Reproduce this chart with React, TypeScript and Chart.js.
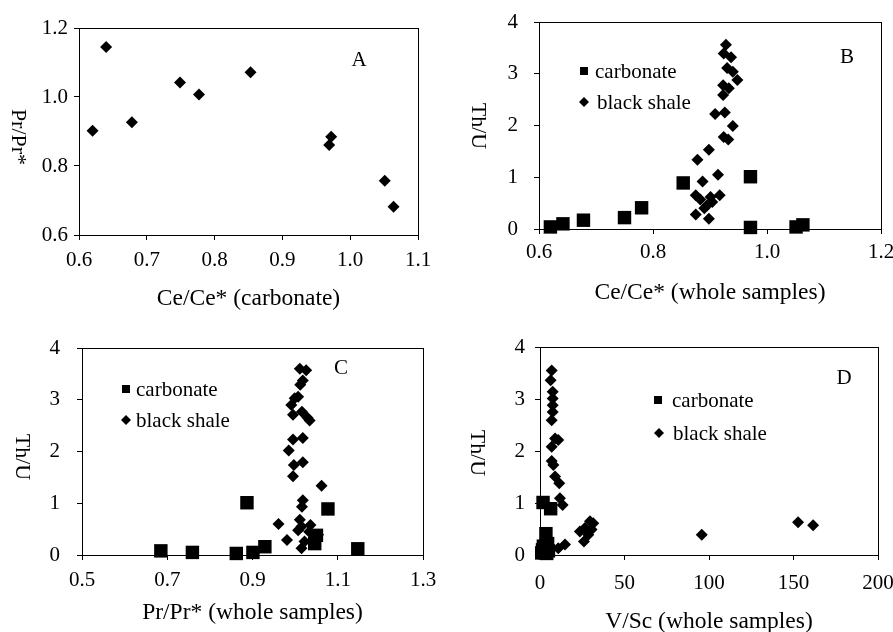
import React, { useEffect, useRef } from "react";
import { Chart, registerables } from "chart.js";

Chart.register(...registerables);

const FONT = "'Liberation Serif', 'Times New Roman', Times, serif";

// ---------- Panel A: carbonate Ce/Ce* vs Pr/Pr* ----------
const A_CE_CARB = [0.62, 0.64, 0.678, 0.749, 0.777, 0.853, 0.969, 0.972, 1.051, 1.064];
const A_PR_CARB = [0.902, 1.145, 0.927, 1.042, 1.007, 1.072, 0.861, 0.885, 0.757, 0.682];
const A_X_TICKS = [0.6, 0.7, 0.8, 0.9, 1.0, 1.1];
const A_Y_TICKS = [0.6, 0.8, 1.0, 1.2];

// ---------- Panel B: Ce/Ce* (whole samples) vs Th/U ----------
const B_CE_CARB = [0.62, 0.642, 0.678, 0.75, 0.78, 0.853, 0.971, 0.971, 1.051, 1.063];
const B_THU_CARB = [0.04, 0.1, 0.17, 0.22, 0.41, 0.89, 1.01, 0.03, 0.04, 0.08];
const B_CE_SHALE = [0.928, 0.924, 0.937, 0.93, 0.94, 0.948, 0.923, 0.933, 0.923, 0.909, 0.926, 0.94, 0.924, 0.932, 0.898, 0.878, 0.914, 0.887, 0.875, 0.917, 0.883, 0.901, 0.895, 0.904, 0.89, 0.875, 0.898];
const B_THU_SHALE = [3.56, 3.39, 3.32, 3.11, 3.04, 2.88, 2.78, 2.72, 2.59, 2.22, 2.25, 1.99, 1.78, 1.73, 1.53, 1.34, 1.05, 0.92, 0.65, 0.65, 0.57, 0.62, 0.46, 0.52, 0.4, 0.28, 0.2];
const B_X_TICKS = [0.6, 0.8, 1.0, 1.2];

// ---------- Panel C: Pr/Pr* (whole samples) vs Th/U ----------
const C_PR_CARB = [0.685, 0.759, 0.862, 0.901, 0.929, 0.887, 1.077, 1.046, 1.147, 1.05];
const C_THU_CARB = [0.08, 0.05, 0.03, 0.05, 0.16, 1.01, 0.89, 0.22, 0.12, 0.38];
const C_PR_SHALE = [1.011, 1.026, 1.018, 1.012, 1.007, 0.999, 0.991, 0.995, 1.016, 1.029, 1.034, 0.995, 1.018, 0.985, 0.997, 1.018, 0.995, 1.062, 1.018, 1.016, 0.961, 1.011, 1.015, 1.036, 1.007, 1.033, 1.054, 0.981, 1.022, 1.015];
const C_THU_SHALE = [3.6, 3.57, 3.37, 3.29, 3.06, 3.03, 2.9, 2.71, 2.77, 2.65, 2.6, 2.23, 2.26, 2.02, 1.74, 1.79, 1.52, 1.34, 1.06, 0.93, 0.6, 0.68, 0.55, 0.58, 0.48, 0.45, 0.39, 0.29, 0.26, 0.13];
const C_X_TICKS = [0.5, 0.7, 0.9, 1.1, 1.3];

// ---------- Panel D: V/Sc (whole samples) vs Th/U ----------
const D_VSC_CARB = [1.8, 6.3, 3.5, 4.5, 2.0, 1.5, 5.0, 1.0, 3.0, 4.0];
const D_THU_CARB = [1.01, 0.89, 0.41, 0.22, 0.17, 0.1, 0.08, 0.04, 0.04, 0.03];
const D_VSC_SHALE = [6.9, 6.3, 7.5, 7.5, 7.5, 7.5, 6.9, 8.9, 10.8, 6.9, 6.9, 7.9, 8.9, 11.4, 11.8, 13.4, 23.6, 26.6, 29.6, 31.5, 30.5, 28.6, 26.0, 10.8, 14.8, 95.7, 152.7, 161.6];
const D_THU_SHALE = [3.55, 3.36, 3.14, 3.01, 2.88, 2.75, 2.59, 2.24, 2.21, 2.08, 1.81, 1.73, 1.51, 1.38, 1.09, 0.96, 0.45, 0.52, 0.65, 0.61, 0.49, 0.39, 0.26, 0.13, 0.2, 0.39, 0.63, 0.57];
const D_X_TICKS = [0, 50, 100, 150, 200];

const THU_TICKS = [0, 1, 2, 3, 4];

const SERIES_CARB = "carbonate";
const SERIES_SHALE = "black shale";

type Series = { label: string; xs: number[]; ys: number[]; style: "rect" | "rectRot"; radius: number };
type LegendPos = { mx: number; my: number; tx: number };
type PanelCfg = {
  left: number; top: number; width: number; height: number;
  plot: [number, number, number, number];
  xMin: number; xMax: number; xTicks: number[]; xDec: number; xTickPad: number;
  yMin: number; yMax: number; yTicks: number[]; yDec: number; yTickPad: number;
  xTitle: string; xTitlePad: number;
  yTitle: string; yTitlePos: [number, number];
  letter: string; letterPos: [number, number];
  legend?: LegendPos[];
  series: Series[];
};

const carb = (xs: number[], ys: number[]): Series => ({ label: SERIES_CARB, xs, ys, style: "rect", radius: 9.5 });
const shale = (xs: number[], ys: number[]): Series => ({ label: SERIES_SHALE, xs, ys, style: "rectRot", radius: 6 });

const PANELS: PanelCfg[] = [
  {
    left: 0, top: 0, width: 446, height: 316, plot: [79, 28, 418, 235],
    xMin: 0.6, xMax: 1.1, xTicks: A_X_TICKS, xDec: 1, xTickPad: 8,
    yMin: 0.6, yMax: 1.2, yTicks: A_Y_TICKS, yDec: 1, yTickPad: 6,
    xTitle: "Ce/Ce* (carbonate)", xTitlePad: 3,
    yTitle: "Pr/Pr*", yTitlePos: [18, 137],
    letter: "A", letterPos: [359, 60],
    series: [{ label: SERIES_SHALE, xs: A_CE_CARB, ys: A_PR_CARB, style: "rectRot", radius: 6 }],
  },
  {
    left: 446, top: 0, width: 447, height: 316, plot: [93, 22, 435, 229],
    xMin: 0.6, xMax: 1.2, xTicks: B_X_TICKS, xDec: 1, xTickPad: 6,
    yMin: 0, yMax: 4, yTicks: THU_TICKS, yDec: 0, yTickPad: 16,
    xTitle: "Ce/Ce* (whole samples)", xTitlePad: 9,
    yTitle: "Th/U", yTitlePos: [32, 126],
    letter: "B", letterPos: [401, 57],
    legend: [{ mx: 138, my: 71, tx: 149 }, { mx: 138, my: 102, tx: 151 }],
    series: [carb(B_CE_CARB, B_THU_CARB), shale(B_CE_SHALE, B_THU_SHALE)],
  },
  {
    left: 0, top: 316, width: 446, height: 316, plot: [82, 32, 423, 239],
    xMin: 0.5, xMax: 1.3, xTicks: C_X_TICKS, xDec: 1, xTickPad: 8,
    yMin: 0, yMax: 4, yTicks: THU_TICKS, yDec: 0, yTickPad: 17,
    xTitle: "Pr/Pr* (whole samples)", xTitlePad: 5,
    yTitle: "Th/U", yTitlePos: [22, 141],
    letter: "C", letterPos: [341, 52],
    legend: [{ mx: 126, my: 73, tx: 136 }, { mx: 126, my: 104, tx: 136 }],
    series: [carb(C_PR_CARB, C_THU_CARB), shale(C_PR_SHALE, C_THU_SHALE)],
  },
  {
    left: 446, top: 316, width: 447, height: 316, plot: [94, 31, 432, 239],
    xMin: 0, xMax: 200, xTicks: D_X_TICKS, xDec: 0, xTickPad: 11,
    yMin: 0, yMax: 4, yTicks: THU_TICKS, yDec: 0, yTickPad: 10,
    xTitle: "V/Sc (whole samples)", xTitlePad: -3.5,
    yTitle: "Th/U", yTitlePos: [31, 137],
    letter: "D", letterPos: [398, 62],
    legend: [{ mx: 212, my: 84, tx: 226 }, { mx: 213, my: 117, tx: 227 }],
    series: [carb(D_VSC_CARB, D_THU_CARB), shale(D_VSC_SHALE, D_THU_SHALE)],
  },
];

function Panel({ cfg }: { cfg: PanelCfg }) {
  const ref = useRef<HTMLCanvasElement>(null);

  useEffect(() => {
    const canvas = ref.current;
    if (!canvas) return;
    const [pl, pt, pr, pb] = cfg.plot;

    const decor = {
      id: "decor",
      beforeDatasetsDraw(chart: any) {
        const { ctx, chartArea: a } = chart;
        ctx.save();
        ctx.strokeStyle = "#000";
        ctx.lineWidth = 1;
        const l = Math.round(a.left), t = Math.round(a.top);
        ctx.strokeRect(l + 0.5, t + 0.5, Math.round(a.right) - l, Math.round(a.bottom) - t);
        ctx.restore();
      },
      afterDraw(chart: any) {
        const { ctx } = chart;
        ctx.save();
        ctx.fillStyle = "#000";
        ctx.textAlign = "center";
        ctx.textBaseline = "middle";
        ctx.font = `21px ${FONT}`;
        ctx.fillText(cfg.letter, cfg.letterPos[0], cfg.letterPos[1]);

        ctx.save();
        ctx.translate(cfg.yTitlePos[0], cfg.yTitlePos[1]);
        ctx.rotate(Math.PI / 2);
        ctx.font = `22px ${FONT}`;
        ctx.fillText(cfg.yTitle, 0, 0);
        ctx.restore();

        if (cfg.legend) {
          ctx.font = `21px ${FONT}`;
          ctx.textAlign = "left";
          ctx.textBaseline = "middle";
          cfg.legend.forEach((item, i) => {
            const s = cfg.series[i];
            if (s.style === "rect") {
              ctx.fillRect(item.mx - 4, item.my - 4, 8, 8);
            } else {
              ctx.beginPath();
              ctx.moveTo(item.mx, item.my - 5);
              ctx.lineTo(item.mx + 5, item.my);
              ctx.lineTo(item.mx, item.my + 5);
              ctx.lineTo(item.mx - 5, item.my);
              ctx.closePath();
              ctx.fill();
            }
            ctx.fillText(s.label, item.tx, item.my + 1);
          });
        }
        ctx.restore();
      },
    };

    const tickFont = { family: FONT, size: 21 };
    const chart = new Chart(canvas, {
      type: "scatter",
      data: {
        datasets: cfg.series.map((s) => ({
          label: s.label,
          data: s.xs.map((x, i) => ({ x, y: s.ys[i] })),
          pointStyle: s.style,
          pointRadius: s.radius,
          pointHoverRadius: s.radius,
          backgroundColor: "#000",
          borderColor: "#000",
          borderWidth: 0,
          clip: false,
        })),
      },
      options: {
        animation: false,
        responsive: false,
        devicePixelRatio: 1,
        events: [],
        layout: { padding: { left: 0, top: pt, right: cfg.width - pr, bottom: 0 } },
        plugins: { legend: { display: false }, tooltip: { enabled: false }, title: { display: false } },
        scales: {
          x: {
            type: "linear",
            min: cfg.xMin,
            max: cfg.xMax,
            afterBuildTicks: (s: any) => { s.ticks = cfg.xTicks.map((v) => ({ value: v })); },
            afterFit: (s: any) => { s.height = cfg.height - pb; s.paddingLeft = 0; s.paddingRight = 0; },
            ticks: {
              font: tickFont,
              color: "#000",
              padding: cfg.xTickPad,
              maxRotation: 0,
              autoSkip: false,
              callback: (v: any) => Number(v).toFixed(cfg.xDec),
            },
            grid: { drawOnChartArea: false, drawTicks: true, tickLength: 5, color: "#000", tickColor: "#000" },
            border: { display: false },
            title: {
              display: true,
              text: cfg.xTitle,
              color: "#000",
              font: { family: FONT, size: 23.5 },
              padding: { top: 0, bottom: cfg.xTitlePad },
            },
          },
          y: {
            type: "linear",
            min: cfg.yMin,
            max: cfg.yMax,
            afterBuildTicks: (s: any) => { s.ticks = cfg.yTicks.map((v) => ({ value: v })); },
            afterFit: (s: any) => { s.width = pl; s.paddingTop = 0; s.paddingBottom = 0; },
            ticks: {
              font: tickFont,
              color: "#000",
              padding: cfg.yTickPad,
              autoSkip: false,
              callback: (v: any) => Number(v).toFixed(cfg.yDec),
            },
            grid: { drawOnChartArea: false, drawTicks: true, tickLength: 5, color: "#000", tickColor: "#000" },
            border: { display: false },
            title: { display: false },
          },
        },
      },
      plugins: [decor],
    } as any);

    return () => chart.destroy();
  }, [cfg]);

  return (
    <canvas
      ref={ref}
      width={cfg.width}
      height={cfg.height}
      style={{ position: "absolute", left: cfg.left, top: cfg.top, width: cfg.width, height: cfg.height }}
    />
  );
}

export default function App() {
  return (
    <div style={{ position: "absolute", left: 0, top: 0, width: 893, height: 632, background: "#fff", overflow: "hidden" }}>
      {PANELS.map((p) => (
        <Panel key={p.letter} cfg={p} />
      ))}
    </div>
  );
}
